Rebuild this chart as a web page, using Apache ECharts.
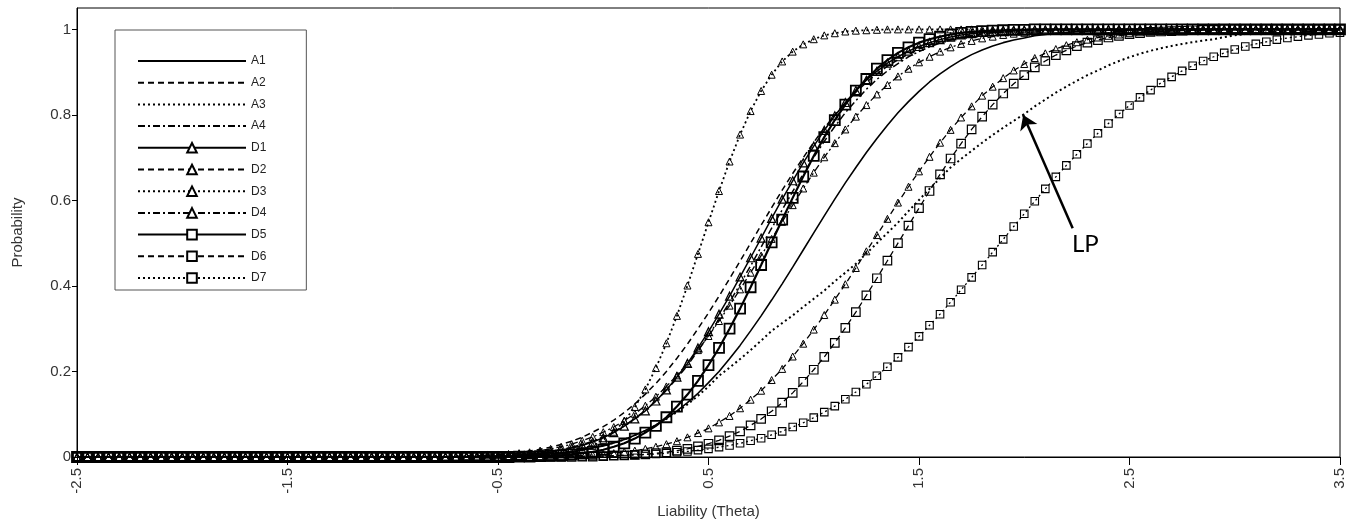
<!DOCTYPE html>
<html>
<head>
<meta charset="utf-8">
<script src="https://cdn.jsdelivr.net/npm/echarts@6/dist/echarts.min.js"></script>
<style>
  html, body { margin: 0; padding: 0; background: #fff; }
  #chart { width: 1355px; height: 525px; }
</style>
</head>
<body>
<div id="chart"></div>
<script>
// theta grid: -2.5 .. 3.5 step 0.05 (121 points)
var theta = [];
for (var i = 0; i <= 120; i++) theta.push(Math.round((-2.5 + i * 0.05) * 100) / 100);

var xTicks = [-2.5, -1.5, -0.5, 0.5, 1.5, 2.5, 3.5];
var yTicks = [0, 0.2, 0.4, 0.6, 0.8, 1];

// probabilities, one value per theta
var a1 = [0,0,0,0,0,0,0,0,0,0, 0,0,0,0,0,0,0,0,0,0, 0,0,0,0,0,0,0,0,0,0,
  0,0,0,0,0,0,0,0,0,0.001,
  0.002,0.002,0.003,0.004,0.006,0.007,0.010,0.013,0.016,0.021,
  0.026,0.033,0.041,0.051,0.062,0.075,0.090,0.108,0.127,0.149,
  0.174,0.200,0.230,0.261,0.295,0.330,0.367,0.405,0.444,0.484,
  0.524,0.564,0.603,0.641,0.677,0.712,0.745,0.776,0.805,0.831,
  0.855,0.877,0.896,0.913,0.928,0.941,0.952,0.961,0.969,0.975,
  0.980,0.985,0.988,0.991,0.993,0.995,0.996,0.997,0.998,0.998,
  0.999,0.999,1,1,1,1,1,1,1,1,
  1,1,1,1,1,1,1,1,1,1, 1];
var a2 = [0,0,0,0,0,0,0,0,0,0, 0,0,0,0,0,0,0,0,0,0, 0,0,0,0,0,0,0,0,0,0,
  0,0,0,0,0,0.001,0.002,0.002,0.003,0.004,
  0.006,0.008,0.010,0.014,0.018,0.023,0.029,0.037,0.046,0.058,
  0.071,0.086,0.104,0.124,0.147,0.172,0.200,0.231,0.264,0.300,
  0.337,0.376,0.417,0.458,0.500,0.542,0.583,0.624,0.663,0.700,
  0.736,0.769,0.800,0.828,0.853,0.876,0.896,0.914,0.929,0.942,
  0.954,0.963,0.971,0.977,0.982,0.986,0.990,0.992,0.994,0.996,
  0.997,0.998,0.998,0.999,1,1,1,1,1,1,
  1,1,1,1,1,1,1,1,1,1,
  1,1,1,1,1,1,1,1,1,1, 1];
var a3 = [0,0,0,0,0,0,0,0,0,0, 0,0,0,0,0,0,0,0,0,0, 0,0,0,0,0,0,0,0,0,0,
  0,0,0,0,0,0,0,0,0,0,
  0.002,0.003,0.003,0.005,0.006,0.008,0.010,0.013,0.017,0.021,
  0.027,0.033,0.041,0.051,0.061,0.074,0.089,0.105,0.123,0.143,
  0.165,0.190,0.209,0.229,0.250,0.272,0.295,0.313,0.331,0.351,
  0.370,0.389,0.411,0.431,0.452,0.476,0.500,0.524,0.548,0.575,
  0.601,0.627,0.652,0.677,0.697,0.716,0.735,0.753,0.770,0.786,
  0.802,0.820,0.836,0.852,0.866,0.880,0.893,0.904,0.916,0.926,
  0.935,0.943,0.950,0.956,0.961,0.966,0.970,0.974,0.977,0.982,
  0.986,0.989,0.992,0.993,0.995,0.996,0.997,0.997,0.998,0.998, 0.999];
var a4 = [0,0,0,0,0,0,0,0,0,0, 0,0,0,0,0,0,0,0,0,0, 0,0,0,0,0,0,0,0,0,0,
  0,0,0,0,0,0,0,0.001,0.001,0.002,
  0.003,0.004,0.005,0.007,0.010,0.013,0.017,0.023,0.029,0.037,
  0.047,0.059,0.073,0.090,0.109,0.131,0.156,0.184,0.214,0.248,
  0.284,0.322,0.362,0.404,0.447,0.491,0.535,0.578,0.621,0.662,
  0.701,0.738,0.773,0.805,0.833,0.860,0.883,0.903,0.920,0.936,
  0.948,0.959,0.968,0.975,0.981,0.985,0.989,0.992,0.994,0.996,
  0.997,0.998,0.998,0.999,1,1,1,1,1,1,
  1,1,1,1,1,1,1,1,1,1,
  1,1,1,1,1,1,1,1,1,1, 1];
var d1 = [0,0,0,0,0,0,0,0,0,0, 0,0,0,0,0,0,0,0,0,0, 0,0,0,0,0,0,0,0,0,0,
  0,0,0,0,0,0,0,0.001,0.001,0.002,
  0.002,0.003,0.004,0.006,0.009,0.012,0.016,0.021,0.027,0.035,
  0.045,0.057,0.072,0.089,0.108,0.131,0.157,0.187,0.219,0.255,
  0.293,0.334,0.376,0.421,0.466,0.512,0.558,0.603,0.646,0.688,
  0.727,0.764,0.798,0.829,0.857,0.881,0.902,0.921,0.936,0.949,
  0.960,0.969,0.976,0.982,0.987,0.990,0.993,0.995,0.996,0.997,
  0.998,0.999,0.999,1,1,1,1,1,1,1,
  1,1,1,1,1,1,1,1,1,1,
  1,1,1,1,1,1,1,1,1,1, 1];
var d2 = [0,0,0,0,0,0,0,0,0,0, 0,0,0,0,0,0,0,0,0,0, 0,0,0,0,0,0,0,0,0,0,
  0,0,0,0,0,0,0,0,0,0,
  0,0,0,0,0.001,0.002,0.002,0.003,0.004,0.005,
  0.007,0.009,0.012,0.015,0.019,0.024,0.030,0.037,0.046,0.056,
  0.067,0.081,0.096,0.114,0.134,0.155,0.180,0.206,0.235,0.265,
  0.298,0.332,0.368,0.404,0.442,0.481,0.519,0.557,0.595,0.632,
  0.668,0.702,0.735,0.765,0.794,0.820,0.845,0.866,0.886,0.904,
  0.919,0.933,0.944,0.954,0.963,0.970,0.976,0.981,0.985,0.988,
  0.991,0.993,0.995,0.996,0.997,0.998,0.998,0.999,0.999,1,
  1,1,1,1,1,1,1,1,1,1, 1];
var d3 = [0,0,0,0,0,0,0,0,0,0, 0,0,0,0,0,0,0,0,0,0, 0,0,0,0,0,0,0,0,0,0,
  0,0,0,0,0,0,0,0,0,0,
  0,0,0,0.001,0.002,0.004,0.006,0.010,0.017,0.026,
  0.040,0.059,0.084,0.117,0.158,0.208,0.266,0.330,0.401,0.475,
  0.549,0.622,0.691,0.754,0.809,0.856,0.894,0.925,0.948,0.965,
  0.977,0.986,0.991,0.995,0.997,0.998,0.999,1,1,1,
  1,1,1,1,1,1,1,1,1,1,
  1,1,1,1,1,1,1,1,1,1,
  1,1,1,1,1,1,1,1,1,1,
  1,1,1,1,1,1,1,1,1,1, 1];
var d4 = [0,0,0,0,0,0,0,0,0,0, 0,0,0,0,0,0,0,0,0,0, 0,0,0,0,0,0,0,0,0,0,
  0,0,0,0,0,0.001,0.001,0.002,0.003,0.004,
  0.005,0.007,0.009,0.011,0.015,0.019,0.024,0.030,0.038,0.047,
  0.058,0.070,0.085,0.101,0.120,0.141,0.165,0.191,0.219,0.250,
  0.283,0.318,0.354,0.392,0.431,0.471,0.510,0.550,0.589,0.628,
  0.665,0.701,0.734,0.766,0.796,0.823,0.848,0.870,0.890,0.908,
  0.923,0.936,0.948,0.958,0.966,0.973,0.979,0.983,0.987,0.990,
  0.992,0.994,0.996,0.997,0.998,0.998,0.999,0.999,1,1,
  1,1,1,1,1,1,1,1,1,1,
  1,1,1,1,1,1,1,1,1,1, 1];
var d5 = [0,0,0,0,0,0,0,0,0,0, 0,0,0,0,0,0,0,0,0,0, 0,0,0,0,0,0,0,0,0,0,
  0,0,0,0,0,0,0,0,0,0,
  0,0,0.001,0.001,0.002,0.003,0.004,0.006,0.009,0.012,
  0.017,0.024,0.032,0.043,0.057,0.073,0.093,0.118,0.146,0.178,
  0.215,0.255,0.300,0.347,0.397,0.449,0.502,0.555,0.606,0.656,
  0.704,0.748,0.788,0.824,0.857,0.884,0.908,0.928,0.945,0.958,
  0.969,0.977,0.983,0.988,0.992,0.994,0.996,0.997,0.998,0.999,
  0.999,1,1,1,1,1,1,1,1,1,
  1,1,1,1,1,1,1,1,1,1,
  1,1,1,1,1,1,1,1,1,1, 1];
var d6 = [0,0,0,0,0,0,0,0,0,0, 0,0,0,0,0,0,0,0,0,0, 0,0,0,0,0,0,0,0,0,0,
  0,0,0,0,0,0,0,0,0,0,
  0,0,0,0,0,0,0,0,0.001,0.001,
  0.002,0.003,0.004,0.005,0.006,0.009,0.011,0.015,0.019,0.025,
  0.031,0.039,0.049,0.060,0.074,0.089,0.107,0.127,0.150,0.176,
  0.204,0.234,0.267,0.302,0.339,0.378,0.418,0.459,0.500,0.541,
  0.582,0.622,0.661,0.698,0.733,0.766,0.796,0.824,0.850,0.873,
  0.893,0.911,0.926,0.940,0.951,0.961,0.969,0.975,0.981,0.985,
  0.989,0.991,0.994,0.995,0.996,0.997,0.998,0.999,0.999,1,
  1,1,1,1,1,1,1,1,1,1, 1];
var d7 = [0,0,0,0,0,0,0,0,0,0, 0,0,0,0,0,0,0,0,0,0, 0,0,0,0,0,0,0,0,0,0,
  0,0,0,0,0,0,0,0,0,0,
  0,0,0,0,0,0,0,0.001,0.001,0.002,
  0.002,0.003,0.004,0.005,0.006,0.007,0.009,0.011,0.013,0.016,
  0.019,0.023,0.027,0.032,0.038,0.044,0.052,0.060,0.070,0.080,
  0.092,0.105,0.119,0.135,0.152,0.170,0.190,0.211,0.233,0.257,
  0.282,0.308,0.334,0.362,0.391,0.420,0.449,0.479,0.509,0.539,
  0.569,0.598,0.627,0.655,0.682,0.708,0.733,0.757,0.780,0.802,
  0.822,0.841,0.858,0.875,0.889,0.903,0.915,0.926,0.936,0.945,
  0.953,0.960,0.966,0.971,0.976,0.980,0.983,0.986,0.988,0.991, 0.992];

// LP arrow and label (data coordinates)
var lpArrow = [[2.23, 0.535], [1.995, 0.80]];
var lpLabel = [2.29, 0.497];

var SOLID = 'solid', DASH = [6, 4], DOT = [2, 3], DASHDOT = [7, 3, 2, 3];

function pairs(vals) {
    return theta.map(function (t, i) { return [t, vals[i]]; });
}

function curve(name, vals, dash, width, symbol, size, border) {
    return {
        name: name,
        type: 'line',
        data: pairs(vals),
        showSymbol: symbol !== 'none',
        symbol: symbol,
        symbolSize: size,
        lineStyle: { color: '#000', width: width, type: dash },
        itemStyle: { color: 'rgba(255,255,255,0)', borderColor: '#000', borderWidth: border || 1 },
        emphasis: { disabled: true },
        z: 2
    };
}

var series = [
    curve('A1', a1, SOLID, 1.6, 'none', 0),
    curve('A2', a2, DASH, 1.5, 'none', 0),
    curve('A3', a3, DOT, 2, 'none', 0),
    curve('A4', a4, DASHDOT, 1.5, 'none', 0),
    curve('D1', d1, SOLID, 1.5, 'triangle', 8, 1.2),
    curve('D2', d2, DASH, 1.3, 'triangle', 7, 1),
    curve('D3', d3, DOT, 1.8, 'triangle', 7, 1),
    curve('D4', d4, DASHDOT, 1.3, 'triangle', 7, 1),
    curve('D6', d6, DASH, 1.3, 'rect', 8.5, 1.2),
    curve('D7', d7, DOT, 1.3, 'rect', 7.5, 1.1),
    curve('D5', d5, SOLID, 2.2, 'rect', 10, 1.8)
];

// LP annotation on the A3 curve
series[2].markLine = {
    silent: true,
    symbol: ['none', 'arrow'],
    symbolSize: 14,
    lineStyle: { color: '#000', width: 2.5, type: 'solid' },
    itemStyle: { color: '#000' },
    label: { show: false },
    data: [[
        { coord: lpArrow[0], lineStyle: { color: '#000' } },
        { coord: lpArrow[1], itemStyle: { color: '#000' } }
    ]]
};
series[2].markPoint = {
    silent: true,
    symbol: 'circle',
    symbolSize: 1,
    itemStyle: { color: 'rgba(0,0,0,0)' },
    label: { show: true, position: 'inside', formatter: 'LP', color: '#000', fontSize: 24, fontFamily: 'Lato' },
    data: [{ coord: lpLabel }]
};

var legendNames = ['A1', 'A2', 'A3', 'A4', 'D1', 'D2', 'D3', 'D4', 'D5', 'D6', 'D7'];
var legendData = legendNames.map(function (n) {
    if (n.charAt(0) === 'A') return { name: n, itemStyle: { opacity: 0 } };
    return { name: n, itemStyle: { color: '#fff' } };
});

var axisFont = { fontFamily: 'Liberation Sans Narrow, Liberation Sans, Arial', fontSize: 15, color: '#333' };

var chart = echarts.init(document.getElementById('chart'), null, { renderer: 'canvas' });
chart.setOption({
    animation: false,
    backgroundColor: '#fff',
    grid: {
        left: 77, right: 15, top: 8, bottom: 68,
        show: true, borderColor: '#000', borderWidth: 1, backgroundColor: 'transparent'
    },
    legend: {
        data: legendData,
        orient: 'vertical',
        left: 115,
        top: 30,
        padding: [25, 40, 6, 22],
        itemWidth: 108,
        itemHeight: 12,
        itemGap: 9.7,
        borderColor: '#555',
        borderWidth: 1,
        backgroundColor: '#fff',
        selectedMode: false,
        textStyle: { fontFamily: 'Liberation Sans Narrow, Liberation Sans, Arial', fontSize: 12, color: '#222', lineHeight: 12 }
    },
    xAxis: {
        type: 'value',
        min: -2.5,
        max: 3.5,
        name: 'Liability (Theta)',
        nameLocation: 'middle',
        nameGap: 47,
        nameTextStyle: axisFont,
        axisLine: { onZero: false, lineStyle: { color: '#000', width: 1 } },
        axisTick: { customValues: xTicks, length: 8, lineStyle: { color: '#000' } },
        axisLabel: Object.assign({ customValues: xTicks, rotate: 90, margin: 11 }, axisFont),
        splitLine: { show: false }
    },
    yAxis: {
        type: 'value',
        min: 0,
        max: 1.05,
        name: 'Probability',
        nameLocation: 'middle',
        nameGap: 52,
        nameTextStyle: axisFont,
        axisLine: { show: true, onZero: false, lineStyle: { color: '#000', width: 1 } },
        axisTick: { show: true, customValues: yTicks, length: 5, lineStyle: { color: '#000' } },
        axisLabel: Object.assign({ customValues: yTicks, margin: 6 }, axisFont),
        splitLine: { show: false }
    },
    series: series
});
</script>
</body>
</html>
